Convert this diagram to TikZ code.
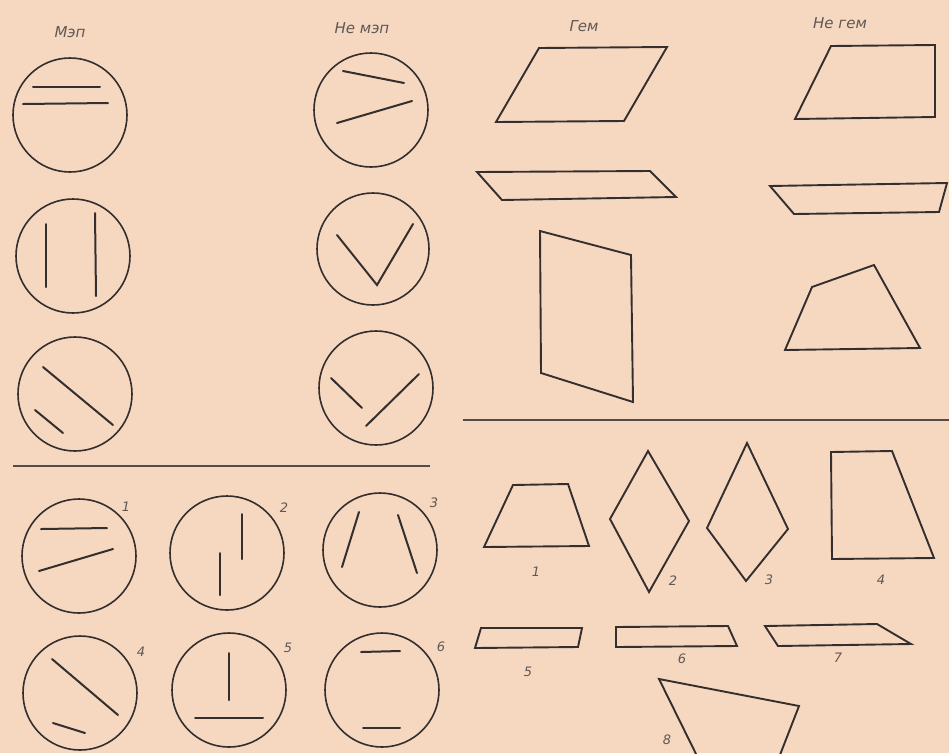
\documentclass[tikz,border=0pt]{standalone}
\usepackage{fontspec}
\setmainfont{DejaVu Sans}
\definecolor{paper}{RGB}{246,216,192}
\definecolor{ink}{RGB}{52,46,46}
\definecolor{txt}{RGB}{95,88,86}
\begin{document}
\begin{tikzpicture}[x=1pt,y=-1pt,
  ring/.style={draw=ink,line width=1.6pt},
  seg/.style={draw=ink,line width=2pt,line cap=round},
  fig/.style={draw=ink,line width=1.9pt,line join=miter},
  rule/.style={draw=ink!85,line width=1.3pt},
  head/.style={text=txt,font=\fontsize{15}{15}\selectfont\itshape,inner sep=0pt},
  num/.style={text=txt,font=\fontsize{13}{13}\selectfont\itshape,inner sep=0pt}]
\fill[paper] (0,0) rectangle (949,753);
\useasboundingbox (0,0) rectangle (949,753);

% headers
\node[head] (h1) at (70,32) {Мэп};
\node[head] (h2) at (362,28) {Не мэп};
\node[head] (h3) at (584,26) {Гем};
\node[head] (h4) at (840,23) {Не гем};

% left column: parallel
\draw[ring] (70,115) circle[radius=57pt];
\draw[seg] (33,87) -- (100,87);
\draw[seg] (23,104) -- (108,103);
\draw[ring] (73,256) circle[radius=57pt];
\draw[seg] (46,224) -- (46,287);
\draw[seg] (95,213) -- (96,296);
\draw[ring] (75,394) circle[radius=57pt];
\draw[seg] (43,367) -- (113,425);
\draw[seg] (35,410) -- (63,433);

% not parallel
\draw[ring] (371,110) circle[radius=57pt];
\draw[seg] (343,71) -- (404,83);
\draw[seg] (337,123) -- (412,101);
\draw[ring] (373,249) circle[radius=56pt];
\draw[seg,line join=miter] (337,235) -- (377,285) -- (413,224);
\draw[ring] (376,388) circle[radius=57pt];
\draw[seg] (331,378) -- (362,408);
\draw[seg] (366,426) -- (419,374);

% dividers
\draw[rule] (13,466) -- (430,466);
\draw[rule] (463,420) -- (949,420);

% bottom-left exercises
\draw[ring] (79,556) circle[radius=57pt];
\draw[seg] (41,529) -- (107,528);
\draw[seg] (39,571) -- (113,549);
\node[num] (n1) at (126,507) {1};
\draw[ring] (227,553) circle[radius=57pt];
\draw[seg] (242,514) -- (242,559);
\draw[seg] (220,553) -- (220,595);
\node[num] (n2) at (284,508) {2};
\draw[ring] (380,550) circle[radius=57pt];
\draw[seg] (359,512) -- (342,567);
\draw[seg] (398,515) -- (417,573);
\node[num] (n3) at (434,503) {3};
\draw[ring] (80,693) circle[radius=57pt];
\draw[seg] (52,659) -- (118,715);
\draw[seg] (53,723) -- (85,733);
\node[num] (n4) at (141,652) {4};
\draw[ring] (229,690) circle[radius=57pt];
\draw[seg] (229,653) -- (229,700);
\draw[seg] (195,718) -- (263,718);
\node[num] (n5) at (288,648) {5};
\draw[ring] (382,690) circle[radius=57pt];
\draw[seg] (361,652) -- (400,651);
\draw[seg] (363,728) -- (400,728);
\node[num] (n6) at (441,647) {6};

% parallelograms
\draw[fig] (539,48) -- (667,47) -- (624,121) -- (496,122) -- cycle;
\draw[fig] (477,172) -- (650,171) -- (676,197) -- (502,200) -- cycle;
\draw[fig] (540,231) -- (631,255) -- (633,402) -- (541,373) -- cycle;

% not parallelograms
\draw[fig] (831,46) -- (935,45) -- (935,117) -- (795,119) -- cycle;
\draw[fig] (770,186) -- (947,183) -- (939,212) -- (794,214) -- cycle;
\draw[fig] (812,287) -- (874,265) -- (920,348) -- (785,350) -- cycle;

% bottom-right exercises
\draw[fig] (513,485) -- (568,484) -- (589,546) -- (484,547) -- cycle;
\node[num] (m1) at (536,572) {1};
\draw[fig] (648,451) -- (689,521) -- (649,592) -- (610,519) -- cycle;
\node[num] (m2) at (673,581) {2};
\draw[fig] (747,443) -- (788,529) -- (746,581) -- (707,528) -- cycle;
\node[num] (m3) at (769,580) {3};
\draw[fig] (831,452) -- (892,451) -- (934,558) -- (832,559) -- cycle;
\node[num] (m4) at (881,580) {4};
\draw[fig] (481,628) -- (582,628) -- (578,647) -- (475,648) -- cycle;
\node[num] (m5) at (528,672) {5};
\draw[fig] (616,627) -- (728,626) -- (737,646) -- (616,647) -- cycle;
\node[num] (m6) at (682,659) {6};
\draw[fig] (765,626) -- (877,624) -- (911,644) -- (778,646) -- cycle;
\node[num] (m7) at (838,658) {7};
\begin{scope}
\clip (0,0) rectangle (949,753);
\draw[fig] (699,760) -- (659,679) -- (799,706) -- (778,760);
\end{scope}
\node[num] (m8) at (667,740) {8};
\end{tikzpicture}
\end{document}
